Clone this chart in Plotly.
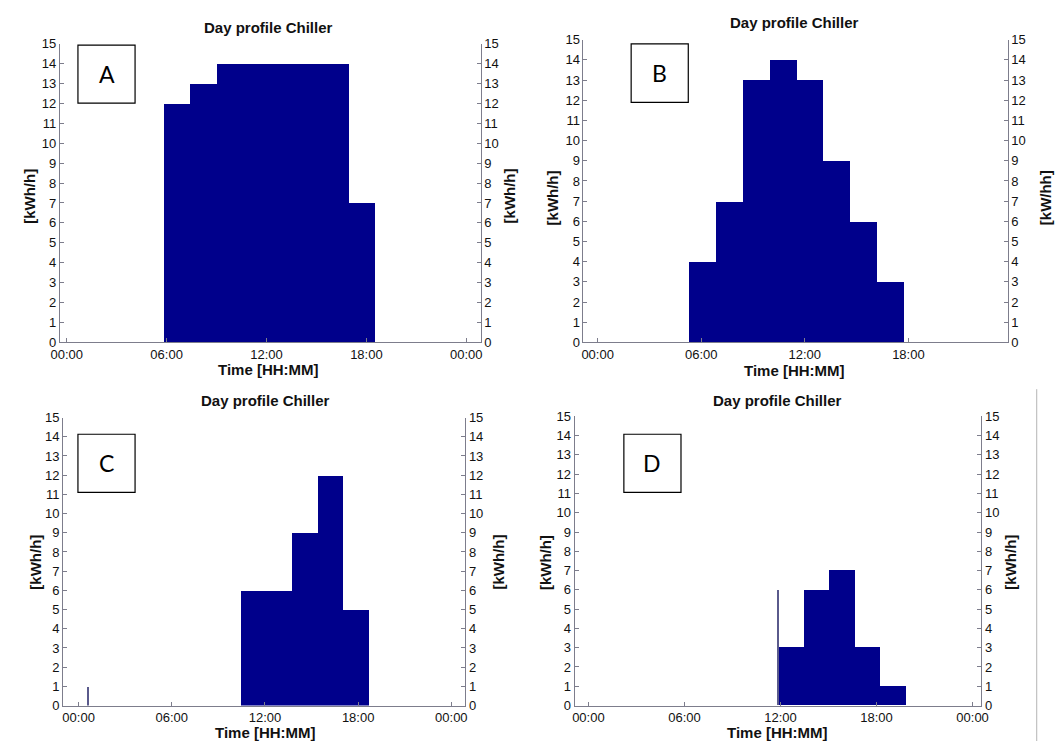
import plotly.graph_objects as go

W, H = 1059, 749

# Hourly chiller demand profiles [kWh/h]; each scenario is a run of equal-length bins
a_start, a_bin = 5.83, 1.585
a_values = [12, 13, 14, 14, 14, 14, 14, 7]

b_start, b_bin = 5.34, 1.5525
b_values = [4, 7, 13, 14, 13, 9, 6, 3]

c_start, c_bin = 10.46, 1.649
c_values = [6, 6, 9, 12, 5]
c_spike_time, c_spike_value = 0.63, 1

d_start, d_bin = 11.84, 1.591
d_values = [3, 6, 7, 3, 1]
d_spike_time, d_spike_value = 11.84, 6

tick_hours = [0, 6, 12, 18, 24]
tick_labels = ["00:00", "06:00", "12:00", "18:00", "00:00"]
y_ticks = list(range(0, 16))

title_text = "Day profile Chiller"
x_title = "Time [HH:MM]"

BAR = "#00008B"
AXIS = "#7d7d8c"
TXT = "#111111"
FONT = "Liberation Sans"

# panel layout in pixels: plot box (left, right, top, bottom), x range in hours,
# title / x label / y label anchors, letter box
panels = [
    dict(letter="A", start=a_start, bin=a_bin, values=a_values, spike=None,
         box=(51.7, 479, 37.3, 342.3), xr=(-0.41, 24.87),
         title=(263, 20.7), xlab=(263, 370), ylab=(20, 508, 193),
         rlabel="[kWh/h]", lbox=(70, 128, 39, 98)),
    dict(letter="B", start=b_start, bin=b_bin, values=b_values, spike=None,
         box=(583.3, 1014, 33.3, 342.3), xr=(-0.82, 23.75),
         title=(798, 15.7), xlab=(798, 370.7), ylab=(551.7, 1052, 195),
         rlabel="[kW/hh]", lbox=(631.7, 689.7, 37.7, 97.3)),
    dict(letter="C", start=c_start, bin=c_bin, values=c_values,
         spike=(c_spike_time, c_spike_value),
         box=(55, 463.3, 419, 712.8), xr=(-0.995, 24.9),
         title=(260.7, 401.3), xlab=(260.7, 740), ylab=(26.7, 496.7, 566.7),
         rlabel="[kWh/h]", lbox=(70, 128, 436, 495.3)),
    dict(letter="D", start=d_start, bin=d_bin, values=d_values,
         spike=(d_spike_time, d_spike_value),
         box=(574.3, 987.3, 417.7, 712.8), xr=(-0.86, 24.55),
         title=(780, 401.3), xlab=(780, 740), ylab=(545, 1016.7, 566.7),
         rlabel="[kWh/h]", lbox=(624.3, 682.3, 436, 495.3)),
]


def px(x):
    return x / W


def py(y):
    return 1 - y / H


fig = go.Figure()
annotations = []
shapes = []
layout = {}

tick_font = dict(family=FONT, size=13, color=TXT)

for k, p in enumerate(panels, start=1):
    xa = "x" if k == 1 else f"x{k}"
    ya = "y" if k == 1 else f"y{k}"
    yr = f"y{k + 4}"
    l, r, t, b = p["box"]

    n = len(p["values"])
    centers = [p["start"] + p["bin"] * (i + 0.5) for i in range(n)]
    fig.add_trace(go.Bar(
        x=centers, y=p["values"], width=[p["bin"]] * n,
        marker=dict(color=BAR, line=dict(width=0)),
        xaxis=xa, yaxis=ya, showlegend=False, hoverinfo="x+y",
    ))
    if p["spike"] is not None:
        st, sv = p["spike"]
        fig.add_trace(go.Bar(
            x=[st], y=[sv], width=[0.05],
            marker=dict(color="#5a5a8c", line=dict(width=0)),
            xaxis=xa, yaxis=ya, showlegend=False, hoverinfo="x+y",
        ))
    # placeholder trace so the right-hand axis is drawn
    fig.add_trace(go.Scatter(x=[None], y=[None], xaxis=xa, yaxis=yr,
                             showlegend=False, hoverinfo="skip"))

    xkey = "xaxis" if k == 1 else f"xaxis{k}"
    ykey = "yaxis" if k == 1 else f"yaxis{k}"
    layout[xkey] = dict(
        domain=[px(l), px(r)], anchor=ya, range=list(p["xr"]),
        tickmode="array", tickvals=tick_hours, ticktext=tick_labels,
        ticks="inside", ticklen=4, tickcolor=AXIS, tickfont=tick_font,
        showline=True, linecolor=AXIS, linewidth=1, mirror=False,
        showgrid=False, zeroline=False, fixedrange=True,
    )
    common_y = dict(
        range=[0, 15], tickmode="array", tickvals=y_ticks,
        ticks="inside", ticklen=4, tickcolor=AXIS, tickfont=tick_font,
        showline=True, linecolor=AXIS, linewidth=1,
        showgrid=False, zeroline=False, fixedrange=True,
    )
    layout[ykey] = dict(domain=[py(b), py(t)], anchor=xa, side="left", **common_y)
    layout[f"yaxis{k + 4}"] = dict(overlaying=ya, anchor=xa, side="right", **common_y)

    # panel title, axis labels
    tx, ty = p["title"]
    annotations.append(dict(x=px(tx), y=py(ty), xref="paper", yref="paper",
                            text=f"<b>{title_text}</b>", showarrow=False,
                            xanchor="center", yanchor="middle",
                            font=dict(family=FONT, size=15, color=TXT)))
    lx, lyy = p["xlab"]
    annotations.append(dict(x=px(lx), y=py(lyy), xref="paper", yref="paper",
                            text=f"<b>{x_title}</b>", showarrow=False,
                            xanchor="center", yanchor="middle",
                            font=dict(family=FONT, size=15, color=TXT)))
    yl_left, yl_right, yl_y = p["ylab"]
    annotations.append(dict(x=px(yl_left), y=py(yl_y), xref="paper", yref="paper",
                            text="<b>[kWh/h]</b>", showarrow=False, textangle=-90,
                            xanchor="center", yanchor="middle",
                            font=dict(family=FONT, size=15, color=TXT)))
    annotations.append(dict(x=px(yl_right), y=py(yl_y), xref="paper", yref="paper",
                            text=f"<b>{p['rlabel']}</b>", showarrow=False, textangle=-90,
                            xanchor="center", yanchor="middle",
                            font=dict(family=FONT, size=15, color=TXT)))

    # scenario letter in a framed box
    bx0, bx1, by0, by1 = p["lbox"]
    shapes.append(dict(type="rect", xref="paper", yref="paper",
                       x0=px(bx0), x1=px(bx1), y0=py(by1), y1=py(by0),
                       line=dict(color="#000000", width=1.2), fillcolor="white"))
    annotations.append(dict(x=px((bx0 + bx1) / 2), y=py((by0 + by1) / 2),
                            xref="paper", yref="paper", text=p["letter"],
                            showarrow=False, xanchor="center", yanchor="middle",
                            font=dict(family="Lato", size=23, color="#000000")))

# thin separator on the right of the lower row
shapes.append(dict(type="line", xref="paper", yref="paper",
                   x0=px(1043.5), x1=px(1043.5), y0=py(749), y1=py(390),
                   line=dict(color="#b4b4b4", width=1)))

fig.update_layout(
    width=W, height=H, margin=dict(l=0, r=0, t=0, b=0),
    paper_bgcolor="white", plot_bgcolor="white",
    bargap=0, annotations=annotations, shapes=shapes,
    **layout,
)

fig.write_html("out.html")
